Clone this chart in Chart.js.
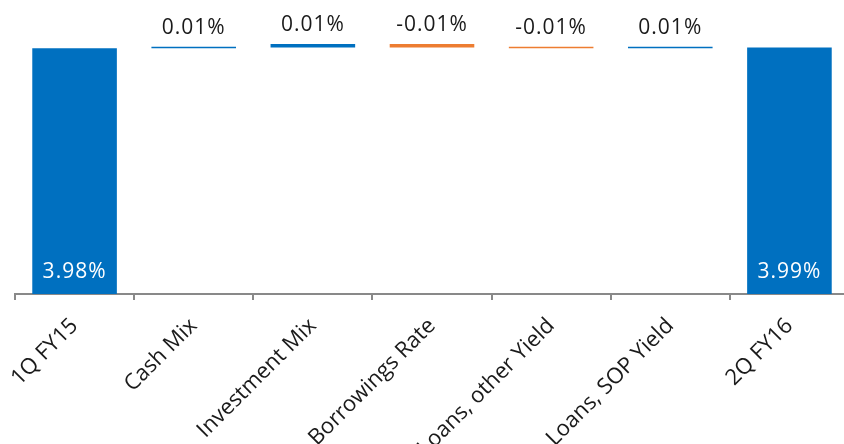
<!DOCTYPE html>
<html>
<head>
<meta charset="utf-8">
<script src="https://cdn.jsdelivr.net/npm/chart.js@4/dist/chart.umd.min.js"></script>
<style>
  html, body { margin: 0; padding: 0; background: #ffffff; overflow: hidden; }
  #wrap { width: 849px; height: 444px; position: relative; }
</style>
</head>
<body>
<div id="wrap"><canvas id="chart"></canvas></div>
<script>
// Net interest margin bridge, 1Q FY15 -> 2Q FY16 (percent)
const categories = ['1Q FY15', 'Cash Mix', 'Investment Mix', 'Borrowings Rate', 'Loans, other Yield', 'Loans, SOP Yield', '2Q FY16'];
const startValue = 3.98;
const endValue = 3.99;
const stepChanges = [0.01, 0.01, -0.01, -0.01, 0.01];   // Cash Mix .. Loans, SOP Yield
// stroke weight of each step bar (thin / heavy)
const stepHeavy = [false, true, true, false, false];

const BLUE = '#0070C0';
const ORANGE = '#ED7D31';
const FONT = '"Open Sans", "DejaVu Sans", sans-serif';

const n = categories.length;
const totals = new Array(n).fill(null);
totals[0] = startValue;
totals[n - 1] = endValue;

const heavySteps = new Array(n).fill(null);
const lightSteps = new Array(n).fill(null);
const stepColors = new Array(n).fill(BLUE);
let level = startValue;
stepChanges.forEach((d, i) => {
  const from = +level.toFixed(4);
  const to = +(level + d).toFixed(4);
  level = to;
  const idx = i + 1;
  (stepHeavy[i] ? heavySteps : lightSteps)[idx] = [from, to];
  stepColors[idx] = d < 0 ? ORANGE : BLUE;
});

const fmt = v => v.toFixed(2) + '%';

const valueLabels = {
  id: 'valueLabels',
  afterDatasetsDraw(chart) {
    const ctx = chart.ctx;
    ctx.save();
    ctx.font = '21px ' + FONT;
    if ('letterSpacing' in ctx) ctx.letterSpacing = '1px';
    ctx.textAlign = 'center';
    ctx.textBaseline = 'alphabetic';
    chart.data.datasets.forEach((ds, di) => {
      const meta = chart.getDatasetMeta(di);
      meta.data.forEach((el, i) => {
        const raw = ds.data[i];
        if (raw === null || raw === undefined) return;
        if (ds.kind === 'total') {
          ctx.fillStyle = '#ffffff';
          ctx.fillText(fmt(raw), el.x, el.base - 16);
        } else {
          const top = Math.min(el.y, el.base);
          ctx.fillStyle = '#1a1a1a';
          ctx.fillText(fmt(stepChanges[i - 1]), el.x, top - 13);
        }
      });
    });
    ctx.restore();
  }
};

new Chart(document.getElementById('chart'), {
  type: 'bar',
  data: {
    labels: categories,
    datasets: [
      { kind: 'total', data: totals, backgroundColor: BLUE },
      { kind: 'step', data: heavySteps, backgroundColor: stepColors, minBarLength: 3.5 },
      { kind: 'step', data: lightSteps, backgroundColor: stepColors, minBarLength: 1.5 }
    ]
  },
  options: {
    responsive: true,
    maintainAspectRatio: false,
    animation: false,
    devicePixelRatio: 1,
    layout: { padding: { left: 15, right: 0, top: 0, bottom: 0 } },
    datasets: { bar: { grouped: false, categoryPercentage: 1, barPercentage: 0.71, borderWidth: 0 } },
    plugins: { legend: { display: false }, tooltip: { enabled: false } },
    scales: {
      x: {
        offset: true,
        afterFit(scale) {
          scale.height = 150;
          scale.paddingLeft = 0;
          scale.paddingRight = 0;
        },
        border: { display: true, color: '#898989', width: 2 },
        grid: { offset: true, drawOnChartArea: false, drawTicks: true, tickLength: 6, color: '#898989', lineWidth: 2 },
        ticks: { color: '#1a1a1a', font: { family: FONT, size: 22 }, minRotation: 45, maxRotation: 45, autoSkip: false, padding: 13 }
      },
      y: { display: false, min: 0, max: 4.76 }
    }
  },
  plugins: [valueLabels]
});
</script>
</body>
</html>
